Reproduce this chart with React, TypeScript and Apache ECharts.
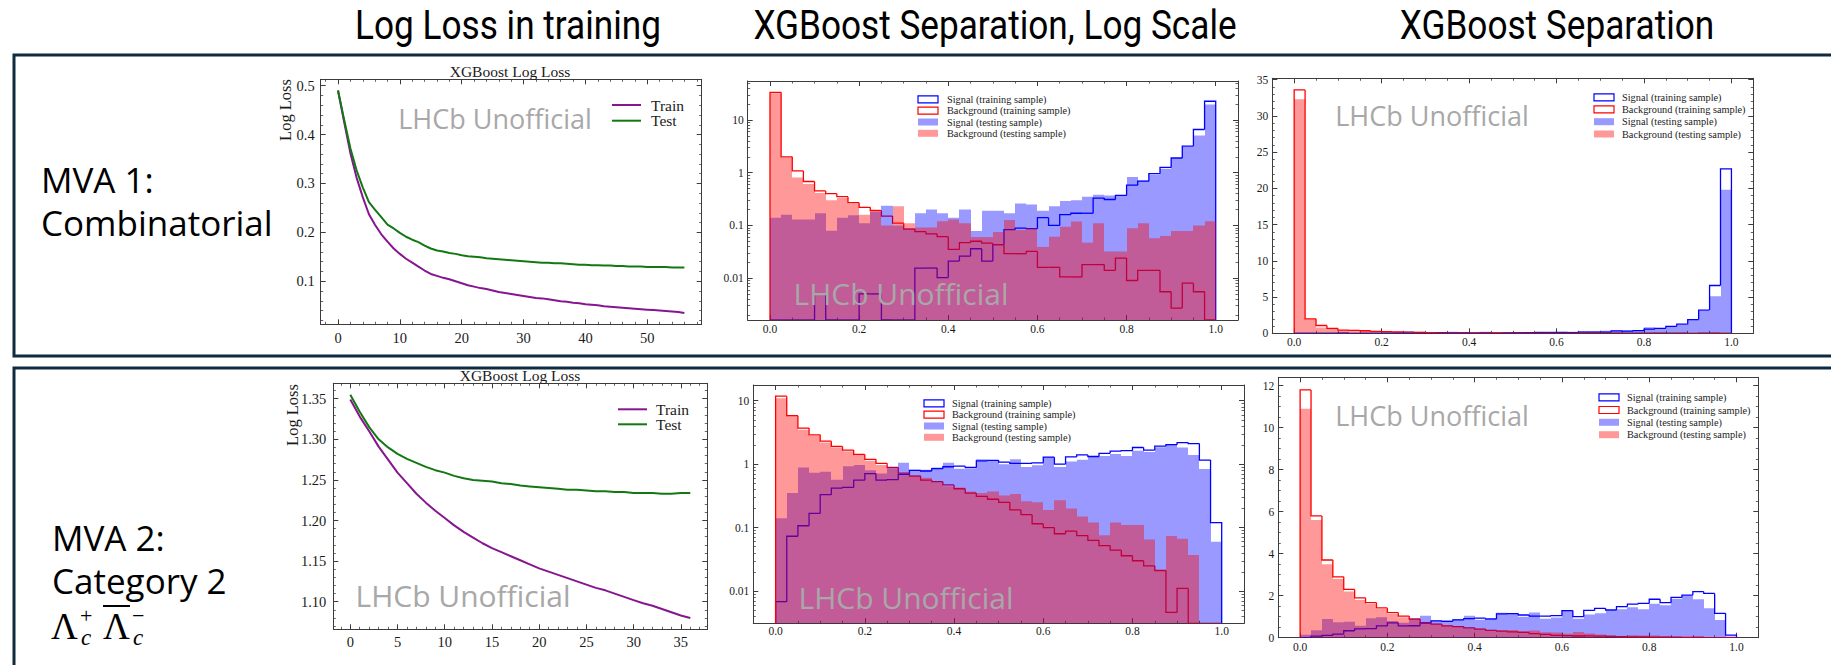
import React, { useEffect, useRef } from "react";
import * as echarts from "echarts";

const SERIF = "'Liberation Serif', 'Times New Roman', Times, serif";
const SANS = "'Open Sans', 'Noto Sans', sans-serif";
const TITLE_FONT = "Roboto, 'Liberation Sans', sans-serif";
const FRAME = "#3c3c3c";
const BOX = "#0f2b3d";
const PURPLE = "#86168f";
const GREEN = "#137813";
const BLUE = "#0000ff";
const RED = "#ff0000";
const BLUE_A = "rgba(0,0,255,0.4)";
const RED_A = "rgba(255,0,0,0.4)";
const WM = "#a8a8a8";

// ---------- Row 1 (MVA 1: Combinatorial) ----------
const lossTrain1 = [
  0.49, 0.425, 0.362, 0.312, 0.272, 0.237, 0.215, 0.196, 0.181, 0.167,
  0.156, 0.146, 0.138, 0.13, 0.122, 0.115, 0.111, 0.107, 0.104, 0.1,
  0.096, 0.092, 0.089, 0.086, 0.084, 0.081, 0.078, 0.076, 0.074, 0.072,
  0.07, 0.068, 0.066, 0.065, 0.063, 0.061, 0.059, 0.058, 0.056, 0.055,
  0.053, 0.052, 0.051, 0.049, 0.048, 0.047, 0.046, 0.045, 0.044, 0.043,
  0.042, 0.041, 0.04, 0.039, 0.038, 0.037, 0.035,
];
const lossTest1 = [
  0.49, 0.43, 0.372, 0.327, 0.292, 0.262, 0.246, 0.231, 0.216, 0.208,
  0.199, 0.191, 0.185, 0.18, 0.173, 0.167, 0.163, 0.161, 0.158, 0.156,
  0.153, 0.151, 0.15, 0.149, 0.147, 0.146, 0.145, 0.144, 0.143, 0.142,
  0.141, 0.14, 0.139, 0.138, 0.138, 0.137, 0.137, 0.136, 0.135, 0.134,
  0.134, 0.133, 0.133, 0.132, 0.132, 0.131, 0.131, 0.13, 0.13, 0.13,
  0.129, 0.129, 0.129, 0.129, 0.128, 0.128, 0.128,
];
const sigTrain1 = [
  0, 0, 0, 0, 0.0049, 0, 0, 0, 0.005, 0.005,
  0, 0, 0, 0.0155, 0.0155, 0.0102, 0.021, 0.026, 0.036, 0.021,
  0.043, 0.083, 0.089, 0.087, 0.14, 0.1, 0.16, 0.17, 0.17, 0.33,
  0.31, 0.37, 0.58, 0.69, 0.96, 1.26, 1.9, 3.2, 6.6, 22.7,
];
const bkgTrain1 = [
  33.6, 2.0, 1.08, 0.68, 0.45, 0.4, 0.35, 0.27, 0.22, 0.19,
  0.15, 0.11, 0.085, 0.076, 0.069, 0.061, 0.035, 0.047, 0.05, 0.046,
  0.043, 0.029, 0.029, 0.032, 0.016, 0.016, 0.0105, 0.0105, 0.018, 0.018,
  0.014, 0.024, 0.009, 0.014, 0.014, 0.0055, 0.0027, 0.008, 0.0055, 0,
];
const sigTest1 = [
  0.14, 0.16, 0.13, 0.13, 0.17, 0.079, 0.14, 0.155, 0.11, 0.18,
  0.235, 0.1, 0.088, 0.17, 0.2, 0.17, 0.14, 0.2, 0.078, 0.19,
  0.19, 0.17, 0.26, 0.25, 0.19, 0.23, 0.29, 0.3, 0.35, 0.38,
  0.37, 0.37, 0.83, 0.71, 0.91, 1.19, 1.9, 3.1, 5.1, 19.8,
];
const bkgTest1 = [
  32.3, 1.95, 0.81, 0.61, 0.41, 0.3, 0.33, 0.26, 0.16, 0.2,
  0.1, 0.23, 0.11, 0.091, 0.091, 0.12, 0.13, 0.11, 0.06, 0.06,
  0.075, 0.126, 0.082, 0.088, 0.039, 0.061, 0.094, 0.118, 0.047, 0.11,
  0.032, 0.032, 0.088, 0.11, 0.057, 0.063, 0.078, 0.078, 0.1, 0.12,
];

// ---------- Row 2 (MVA 2: Category 2) ----------
const lossTrain2 = [
  1.349, 1.328, 1.31, 1.291, 1.275, 1.259, 1.246, 1.233, 1.222, 1.212,
  1.203, 1.194, 1.186, 1.179, 1.172, 1.166, 1.161, 1.156, 1.151, 1.146,
  1.141, 1.137, 1.133, 1.129, 1.125, 1.121, 1.117, 1.114, 1.11, 1.106,
  1.102, 1.098, 1.095, 1.091, 1.087, 1.083, 1.08,
];
const lossTest2 = [
  1.355, 1.334, 1.315, 1.3, 1.29, 1.282, 1.276, 1.271, 1.266, 1.262,
  1.259, 1.255, 1.252, 1.25, 1.249, 1.248, 1.246, 1.245, 1.243, 1.242,
  1.241, 1.24, 1.239, 1.238, 1.238, 1.237, 1.236, 1.236, 1.235, 1.235,
  1.234, 1.234, 1.234, 1.233, 1.233, 1.234, 1.234,
];
const sigTrain2 = [
  0.0068, 0.073, 0.107, 0.167, 0.33, 0.42, 0.43, 0.56, 0.71, 0.56,
  0.57, 0.69, 0.8, 0.78, 0.85, 0.91, 0.93, 0.89, 1.13, 1.15,
  1.08, 1.03, 1.03, 1.05, 1.29, 1.0, 1.3, 1.4, 1.32, 1.48,
  1.6, 1.63, 1.83, 1.67, 1.92, 2.03, 2.19, 2.11, 1.16, 0.12,
];
const bkgTrain2 = [
  11.8, 5.8, 3.7, 2.9, 2.3, 1.9, 1.67, 1.42, 1.19, 1.03,
  0.89, 0.72, 0.65, 0.56, 0.53, 0.47, 0.41, 0.35, 0.31, 0.28,
  0.25, 0.19, 0.16, 0.115, 0.1, 0.08, 0.088, 0.075, 0.063, 0.052,
  0.044, 0.036, 0.03, 0.025, 0.021, 0.0046, 0.011, 0, 0, 0,
];
const sigTest2 = [
  0.14, 0.35, 0.89, 0.73, 0.76, 0.57, 0.93, 0.97, 0.8, 0.71,
  0.9, 1.05, 0.82, 0.82, 0.89, 1.05, 0.85, 0.86, 1.19, 1.16,
  1.0, 1.2, 0.9, 0.96, 1.3, 0.9, 1.1, 1.17, 1.3, 1.35,
  1.45, 1.35, 1.62, 1.55, 1.85, 2.0, 1.83, 1.4, 0.84, 0.06,
];
const bkgTest2 = [
  10.9, 5.6, 3.5, 2.8, 2.2, 1.8, 1.6, 1.37, 1.13, 0.97,
  0.86, 0.69, 0.67, 0.61, 0.53, 0.45, 0.43, 0.37, 0.35, 0.37,
  0.32, 0.34, 0.26, 0.25, 0.19, 0.27, 0.2, 0.15, 0.12, 0.076,
  0.12, 0.11, 0.11, 0.065, 0.022, 0.074, 0.067, 0.037, 0, 0,
];

const binEdges = Array.from({ length: 41 }, (_, i) => i / 40);

const columnTitles = ["Log Loss in training", "XGBoost Separation, Log Scale", "XGBoost Separation"];
const legendLabels = [
  "Signal (training sample)",
  "Background (training sample)",
  "Signal (testing sample)",
  "Background (testing sample)",
];

// ---------- helpers ----------
const isMult = (v: number, step: number) => Math.abs(v / step - Math.round(v / step)) < 1e-6;

const fmtStep = (step: number, dec: number) => (v: number) =>
  isMult(v, step) ? v.toFixed(dec) : "";

const fmtLog = (v: number) => {
  const l = Math.log10(v);
  if (Math.abs(l - Math.round(l)) > 1e-6) return "";
  const e = Math.round(l);
  return e >= 0 ? String(Math.pow(10, e)) : Math.pow(10, e).toFixed(-e);
};

function logMinors(min: number, max: number) {
  const out: number[] = [];
  for (let e = -4; e <= 2; e++)
    for (let k = 2; k <= 9; k++) {
      const v = k * Math.pow(10, e);
      if (v > min && v < max) out.push(v);
    }
  return out;
}

type AxisSpec = {
  min: number;
  max: number;
  split: number;
  minor: number;
  font: number;
  margin: number;
  fmt: (v: number) => string;
  log?: boolean;
};

function makeAxis(gi: number, position: string, s: AxisSpec, labels: boolean) {
  const ax: any = {
    type: s.log ? "log" : "value",
    gridIndex: gi,
    position,
    min: s.min,
    max: s.max,
    splitNumber: s.split,
    axisLine: { show: true, onZero: false, lineStyle: { color: FRAME, width: 1 } },
    axisTick: { show: true, inside: true, length: 5, lineStyle: { color: FRAME, width: 1 } },
    minorTick: { show: !s.log, splitNumber: s.minor, length: 2.5, lineStyle: { color: FRAME, width: 0.8 } },
    splitLine: { show: false },
    minorSplitLine: { show: false },
    axisLabel: {
      show: labels,
      color: "#1a1a1a",
      fontFamily: SERIF,
      fontSize: s.font,
      margin: s.margin,
      formatter: s.fmt,
    },
  };
  if (s.log) ax.logBase = 10;
  return ax;
}

function makeLogMinorAxis(gi: number, position: string, s: AxisSpec) {
  return {
    type: "log",
    logBase: 10,
    gridIndex: gi,
    position,
    min: s.min,
    max: s.max,
    axisLine: { show: false, onZero: false },
    axisLabel: { show: false },
    splitLine: { show: false },
    axisTick: {
      show: true,
      inside: true,
      length: 2.5,
      customValues: logMinors(s.min, s.max),
      lineStyle: { color: FRAME, width: 0.8 },
    },
  };
}

const xAxes: any[] = [];
const yAxes: any[] = [];
function addAxes(gi: number, xs: AxisSpec, ys: AxisSpec) {
  const xi = xAxes.length;
  xAxes.push(makeAxis(gi, "bottom", xs, true));
  xAxes.push(makeAxis(gi, "top", xs, false));
  const yi = yAxes.length;
  yAxes.push(makeAxis(gi, "left", ys, true));
  yAxes.push(makeAxis(gi, "right", ys, false));
  if (ys.log) {
    yAxes.push(makeLogMinorAxis(gi, "left", ys));
    yAxes.push(makeLogMinorAxis(gi, "right", ys));
  }
  return { xi, yi };
}

function lineSeries(ax: { xi: number; yi: number }, vals: number[], color: string) {
  return {
    type: "line",
    xAxisIndex: ax.xi,
    yAxisIndex: ax.yi,
    data: vals.map((v, i) => [i, v]),
    showSymbol: false,
    symbol: "none",
    clip: true,
    silent: true,
    lineStyle: { color, width: 2 },
    itemStyle: { color },
  };
}

function histFill(ax: { xi: number; yi: number }, vals: number[], color: string) {
  return {
    type: "custom",
    xAxisIndex: ax.xi,
    yAxisIndex: ax.yi,
    silent: true,
    clip: true,
    data: vals.map((v, i) => [binEdges[i], binEdges[i + 1], v]),
    encode: { x: [0, 1], y: 2 },
    renderItem: (params: any, api: any) => {
      const cs = params.coordSys;
      const top = cs.y;
      const bottom = cs.y + cs.height;
      const v = api.value(2);
      if (!(v > 0)) return { type: "group", children: [] };
      const p0 = api.coord([api.value(0), v]);
      const p1 = api.coord([api.value(1), v]);
      const yTop = Math.max(top, Math.min(bottom, p0[1]));
      const x0 = Math.round(p0[0]);
      const x1 = Math.round(p1[0]);
      return {
        type: "rect",
        shape: { x: x0, y: yTop, width: x1 - x0, height: bottom - yTop },
        style: { fill: color, stroke: null },
      };
    },
  };
}

function histStep(ax: { xi: number; yi: number }, vals: number[], color: string) {
  const n = vals.length;
  return {
    type: "custom",
    xAxisIndex: ax.xi,
    yAxisIndex: ax.yi,
    silent: true,
    clip: true,
    data: vals.map((v, i) => [binEdges[i], binEdges[i + 1], v, i > 0 ? vals[i - 1] : 0, i === n - 1 ? 1 : 0]),
    encode: { x: [0, 1], y: 2 },
    renderItem: (params: any, api: any) => {
      const cs = params.coordSys;
      const top = cs.y;
      const bottom = cs.y + cs.height;
      const yOf = (v: number) => {
        if (!(v > 0)) return bottom;
        const y = api.coord([0.5, v])[1];
        return Math.max(top, Math.min(bottom, y));
      };
      const X0 = api.coord([api.value(0), 1])[0];
      const X1 = api.coord([api.value(1), 1])[0];
      const v = api.value(2);
      const prev = api.value(3);
      const pts: number[][] = [
        [X0, yOf(prev)],
        [X0, yOf(v)],
        [X1, yOf(v)],
      ];
      if (api.value(4) === 1) pts.push([X1, bottom]);
      return {
        type: "polyline",
        shape: { points: pts },
        style: { stroke: color, fill: null, lineWidth: 1.3 },
      };
    },
  };
}

function txt(x: number, y: number, text: string, size: number, family: string, fill: string, align = "left", extra: any = {}) {
  const { style: extraStyle, ...rest } = extra;
  return {
    type: "text",
    x,
    y,
    z: 60,
    ...rest,
    style: {
      text,
      fontSize: size,
      fontFamily: family,
      fill,
      align,
      verticalAlign: "middle",
      textAlign: align,
      textVerticalAlign: "middle",
      ...(extraStyle || {}),
    },
  };
}

function histLegend(hx: number, tx: number, ys: number[]) {
  const styles = [
    { fill: "#ffffff", stroke: BLUE },
    { fill: "#ffffff", stroke: RED },
    { fill: BLUE_A, stroke: null },
    { fill: RED_A, stroke: null },
  ];
  const out: any[] = [];
  legendLabels.forEach((label, k) => {
    out.push({
      type: "rect",
      z: 60,
      shape: { x: hx, y: ys[k] - 3.5, width: 20, height: 7 },
      style: { fill: styles[k].fill, stroke: styles[k].stroke, lineWidth: 1.2 },
    });
    out.push(txt(tx, ys[k], label, 10.3, SERIF, "#1a1a1a"));
  });
  return out;
}

function lossLegend(hx: number, tx: number, ys: number[]) {
  return [
    { type: "line", z: 60, shape: { x1: hx, y1: ys[0], x2: hx + 29, y2: ys[0] }, style: { stroke: PURPLE, lineWidth: 2 } },
    txt(tx, ys[0], "Train", 15.5, SERIF, "#1a1a1a"),
    { type: "line", z: 60, shape: { x1: hx, y1: ys[1], x2: hx + 29, y2: ys[1] }, style: { stroke: GREEN, lineWidth: 2 } },
    txt(tx, ys[1], "Test", 15.5, SERIF, "#1a1a1a"),
  ];
}

function buildOption() {
  xAxes.length = 0;
  yAxes.length = 0;
  const grids = [
    { left: 320.7, top: 79.3, width: 381, height: 245 },
    { left: 747.7, top: 81, width: 490.3, height: 239 },
    { left: 1272.3, top: 78.3, width: 481, height: 255 },
    { left: 333.3, top: 383.3, width: 374, height: 246 },
    { left: 753.3, top: 385, width: 490.7, height: 238.3 },
    { left: 1278.3, top: 377.3, width: 480, height: 260.4 },
  ].map((g) => ({ ...g, show: false, containLabel: false, outerBoundsMode: "none" }));

  const histX = (margin: number): AxisSpec => ({ min: -0.05, max: 1.05, split: 5, minor: 4, font: 11.5, margin, fmt: fmtStep(0.2, 1) });

  const a0 = addAxes(0,
    { min: -2.8, max: 58.8, split: 6, minor: 5, font: 14.5, margin: 6, fmt: fmtStep(10, 0) },
    { min: 0.012, max: 0.513, split: 5, minor: 5, font: 14.5, margin: 6, fmt: fmtStep(0.1, 1) });
  const a1 = addAxes(1, histX(3),
    { min: 0.0016, max: 55, split: 5, minor: 1, font: 11.5, margin: 4, fmt: fmtLog, log: true });
  const a2 = addAxes(2, histX(3),
    { min: 0, max: 35.2, split: 7, minor: 5, font: 11.5, margin: 4, fmt: fmtStep(5, 0) });
  const a3 = addAxes(3,
    { min: -1.8, max: 37.8, split: 8, minor: 5, font: 14.5, margin: 5, fmt: fmtStep(5, 0) },
    { min: 1.066, max: 1.369, split: 6, minor: 5, font: 14.5, margin: 7, fmt: fmtStep(0.05, 2) });
  const a4 = addAxes(4, histX(2),
    { min: 0.0031, max: 17.7, split: 5, minor: 1, font: 11.5, margin: 4, fmt: fmtLog, log: true });
  const a5 = addAxes(5, histX(3),
    { min: 0, max: 12.4, split: 6, minor: 4, font: 11.5, margin: 4, fmt: fmtStep(2, 0) });

  const series: any[] = [
    lineSeries(a0, lossTrain1, PURPLE),
    lineSeries(a0, lossTest1, GREEN),
    lineSeries(a3, lossTrain2, PURPLE),
    lineSeries(a3, lossTest2, GREEN),
  ];
  const hists: [any, number[], number[], number[], number[]][] = [
    [a1, sigTrain1, bkgTrain1, sigTest1, bkgTest1],
    [a2, sigTrain1, bkgTrain1, sigTest1, bkgTest1],
    [a4, sigTrain2, bkgTrain2, sigTest2, bkgTest2],
    [a5, sigTrain2, bkgTrain2, sigTest2, bkgTest2],
  ];
  hists.forEach(([ax, st, bt, ste, bte]) => {
    series.push(histStep(ax, st, BLUE));
    series.push(histStep(ax, bt, RED));
    series.push(histFill(ax, ste, BLUE_A));
    series.push(histFill(ax, bte, RED_A));
  });

  const lambdaY = 626;
  const tight = (lh: number) => ({ style: { lineHeight: lh } });
  const tightItalic = (lh: number) => ({ style: { lineHeight: lh, fontStyle: "italic" } });
  const graphic: any[] = [
    // panel boxes
    { type: "rect", z: 70, shape: { x: 14, y: 55, width: 1840, height: 301 }, style: { fill: null, stroke: BOX, lineWidth: 3 } },
    { type: "rect", z: 70, shape: { x: 14, y: 368, width: 1840, height: 400 }, style: { fill: null, stroke: BOX, lineWidth: 3 } },
    // column titles
    txt(508, 25, columnTitles[0], 40, TITLE_FONT, "#000", "center", { scaleX: 0.88 }),
    txt(995, 25, columnTitles[1], 40, TITLE_FONT, "#000", "center", { scaleX: 0.88 }),
    txt(1557, 25, columnTitles[2], 40, TITLE_FONT, "#000", "center", { scaleX: 0.88 }),
    // row labels
    txt(41, 179, "MVA 1:", 35, SANS, "#000", "left", tight(36)),
    txt(41, 222, "Combinatorial", 35, SANS, "#000", "left", tight(36)),
    txt(52, 537, "MVA 2:", 35, SANS, "#000", "left", tight(36)),
    txt(52, 580, "Category 2", 35, SANS, "#000", "left", tight(36)),
    txt(51, lambdaY, "Λ", 37, SERIF, "#000", "left", tight(30)),
    txt(80, lambdaY - 11, "+", 22, SERIF, "#000", "left", tight(18)),
    txt(81, lambdaY + 11, "c", 23, SERIF, "#000", "left", tightItalic(18)),
    txt(103, lambdaY, "Λ", 37, SERIF, "#000", "left", tight(30)),
    { type: "line", z: 60, shape: { x1: 103, y1: lambdaY - 20, x2: 130, y2: lambdaY - 20 }, style: { stroke: "#000", lineWidth: 2 } },
    txt(132, lambdaY - 11, "−", 22, SERIF, "#000", "left", tight(18)),
    txt(133, lambdaY + 11, "c", 23, SERIF, "#000", "left", tightItalic(18)),
    // loss subplot titles and y labels
    txt(510, 71, "XGBoost Log Loss", 15.5, SERIF, "#1a1a1a", "center"),
    txt(520, 375, "XGBoost Log Loss", 15.5, SERIF, "#1a1a1a", "center"),
    txt(285, 110, "Log Loss", 16.5, SERIF, "#1a1a1a", "center", { rotation: Math.PI / 2 }),
    txt(292, 415, "Log Loss", 16.5, SERIF, "#1a1a1a", "center", { rotation: Math.PI / 2 }),
    // legends
    ...lossLegend(612, 651, [105, 120.7]),
    ...lossLegend(618, 656, [409.3, 424.3]),
    ...histLegend(918, 947, [99.3, 110.7, 122, 133.3]),
    ...histLegend(1594, 1622, [97.3, 109.3, 121.7, 134]),
    ...histLegend(924, 952, [403.3, 414.7, 426, 437.3]),
    ...histLegend(1599, 1627, [397.3, 410, 422.3, 434.7]),
    // watermarks
    txt(495, 118, "LHCb Unofficial", 27, SANS, WM, "center"),
    txt(901, 293, "LHCb Unofficial", 30, SANS, WM, "center"),
    txt(1432, 115, "LHCb Unofficial", 27, SANS, WM, "center"),
    txt(463, 595, "LHCb Unofficial", 30, SANS, WM, "center"),
    txt(906, 597, "LHCb Unofficial", 30, SANS, WM, "center"),
    txt(1432, 415, "LHCb Unofficial", 27, SANS, WM, "center"),
  ];

  return {
    animation: false,
    backgroundColor: "#ffffff",
    grid: grids,
    xAxis: xAxes,
    yAxis: yAxes,
    series,
    graphic: { elements: graphic },
  };
}

export default function App() {
  const ref = useRef<HTMLDivElement>(null);
  useEffect(() => {
    if (!ref.current) return;
    const chart = echarts.init(ref.current, undefined, { renderer: "svg" });
    chart.setOption(buildOption() as any);
    return () => chart.dispose();
  }, []);
  return (
    <div
      ref={ref}
      style={{ position: "fixed", left: 0, top: 0, width: 1831, height: 665, background: "#ffffff" }}
    />
  );
}
